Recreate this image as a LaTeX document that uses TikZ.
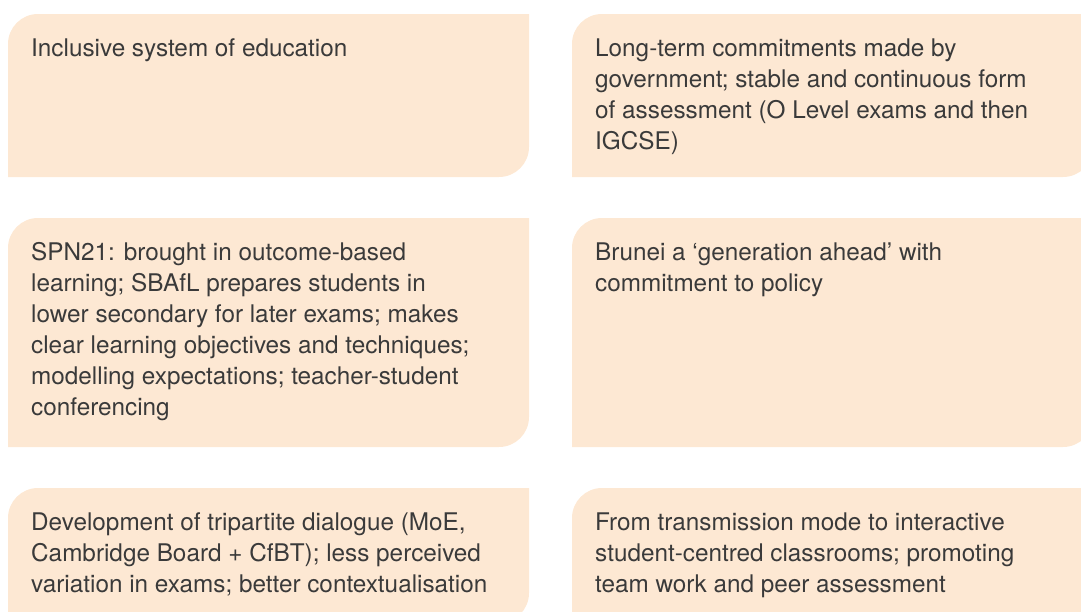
\documentclass[tikz,border=0pt]{standalone}
\usepackage{fontspec}
\setmainfont{TeX Gyre Heros}
\usepackage{tikz}
\definecolor{peach}{HTML}{FDE8D3}
\definecolor{ink}{HTML}{3A3A3A}
\tikzstyle{panel}=[fill=peach]
\tikzstyle{blurb}=[anchor=north west, inner sep=0pt, align=left, text=ink,
                   font=\fontsize{24.3}{31}\selectfont]

\begin{document}
\begin{tikzpicture}[x=1pt, y=1pt]
    \useasboundingbox (0,0) rectangle (1081,-611);
    \clip (0,0) rectangle (1081,-611);
    % left edge / top / height of each panel
    \foreach \x/\y/\h [count = \i] in {8/14/163, 572/14/163, 8/218/229,
                                       572/218/229, 8/488/135, 572/488/135}{
      \fill[panel] (\x+521,-\y) -- (\x+30,-\y)
        arc[start angle=90, end angle=180, radius=30] -- (\x,-\y-\h)
        -- (\x+491,-\y-\h) arc[start angle=270, end angle=360, radius=30] -- cycle;
      % strut height is 0.7 of 31pt
      \coordinate (p\i) at (\x+23,-\y-42+21.7);
    }
    \node[blurb] (inclusive) at (p1) {\strut Inclusive system of education};
    \node[blurb] (commit) at (p2) {\strut Long-term commitments made by\\
      government; stable and continuous form\\
      of assessment (O Level exams and then\\
      IGCSE)};
    \node[blurb] (spn) at (p3) {\strut SPN21: brought in outcome-based\\
      learning; SBAfL prepares students in\\
      lower secondary for later exams; makes\\
      clear learning objectives and techniques;\\
      modelling expectations; teacher-student\\
      conferencing};
    \node[blurb] (brunei) at (p4) {\strut Brunei a `generation ahead' with\\
      commitment to policy};
    \node[blurb] (dialogue) at (p5) {\strut Development of tripartite dialogue (MoE,\\
      Cambridge Board + CfBT); less perceived\\
      variation in exams; better contextualisation};
    \node[blurb] (mode) at (p6) {\strut From transmission mode to interactive\\
      student-centred classrooms; promoting\\
      team work and peer assessment};
  \end{tikzpicture}
\end{document}
